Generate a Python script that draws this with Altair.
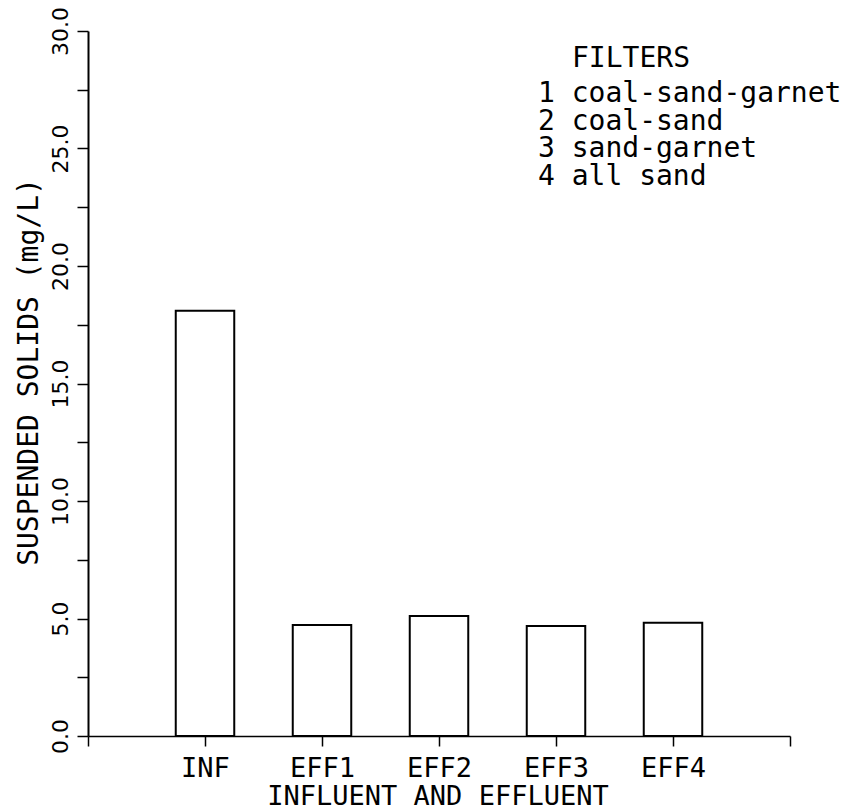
import altair as alt
import pandas as pd

# ---- data ----
categories = ["INF", "EFF1", "EFF2", "EFF3", "EFF4"]
suspended_solids = [18.1, 4.72, 5.11, 4.68, 4.82]
legend_title = "FILTERS"
filter_names = ["coal-sand-garnet", "coal-sand", "sand-garnet", "all sand"]
y_ticks = [0, 2.5, 5, 7.5, 10, 12.5, 15, 17.5, 20, 22.5, 25, 27.5, 30]

MONO = "DejaVu Sans Mono"
SANS = "DejaVu Sans"

df = pd.DataFrame({
    "cat": categories,
    "val": suspended_solids,
    "pos": list(range(1, len(categories) + 1)),
})

x_ticks = list(range(0, len(categories) + 2))
x_label_list = [""] + categories + [""]
x_label_expr = "[" + ",".join("'" + s + "'" for s in x_label_list) + "][round(datum.value)]"

x_axis = alt.Axis(
    values=x_ticks,
    labelExpr=x_label_expr,
    title="INFLUENT AND EFFLUENT",
    labelFont=MONO, labelFontSize=27, labelColor="black",
    labelAlign="center", labelBaseline="alphabetic", labelPadding=30,
    labelFlush=False, labelOverlap=False,
    tickSize=10, tickWidth=1.5, tickColor="black",
    domainWidth=1.5, domainColor="black",
    titleFont=MONO, titleFontSize=27, titleFontWeight="normal", titleColor="black",
    titleAlign="center", titleBaseline="alphabetic", titleAngle=0,
    titleX=349.5, titleY=68,
    grid=False,
)

y_axis = alt.Axis(
    values=y_ticks,
    labelExpr="datum.value % 5 == 0 ? format(datum.value, '.1f') : ''",
    title="SUSPENDED SOLIDS (mg/L)",
    labelFont=SANS, labelFontSize=22, labelColor="black",
    labelAngle=270, labelAlign="center", labelBaseline="alphabetic",
    labelPadding=10, labelFlush=False, labelOverlap=False,
    tickSize=11, tickWidth=1.5, tickColor="black",
    domainWidth=2, domainColor="black",
    titleFont=MONO, titleFontSize=28, titleFontWeight="normal", titleColor="black",
    titleAngle=270, titleAlign="center", titleBaseline="alphabetic",
    titleX=-51, titleY=340.5,
    grid=False,
)

bars = alt.Chart(df).transform_calculate(
    x0="datum.pos - 0.25", x1="datum.pos + 0.25"
).mark_bar(fill="white", stroke="black", strokeWidth=2).encode(
    x=alt.X("x0:Q", scale=alt.Scale(domain=[0, len(categories) + 1], nice=False, zero=False), axis=x_axis),
    x2="x1:Q",
    y=alt.Y("val:Q", scale=alt.Scale(domain=[0, 30], nice=False), axis=y_axis),
    y2=alt.datum(0),
)

header = alt.Chart(pd.DataFrame({"t": [legend_title]})).mark_text(
    font=MONO, fontSize=28, align="left", baseline="alphabetic", color="black"
).encode(
    x=alt.value(484), y=alt.value(36), text="t:N"
)

legend_lines = [f"{i + 1} {name}" for i, name in enumerate(filter_names)]
legend = alt.Chart(pd.DataFrame({"t": ["x"]})).mark_text(
    font=MONO, fontSize=28, align="left", baseline="alphabetic", color="black",
    lineHeight=27.7,
).encode(
    x=alt.value(450), y=alt.value(71), text=alt.value(legend_lines)
)

chart = alt.layer(bars, header, legend).properties(
    width=702, height=705,
    autosize=alt.AutoSizeParams(type="none"),
    padding={"left": 80, "top": 23, "right": 50, "bottom": 76},
    background="white",
).configure_view(stroke=None)

chart.save("out.html", embed_options={"renderer": "svg", "actions": False})
